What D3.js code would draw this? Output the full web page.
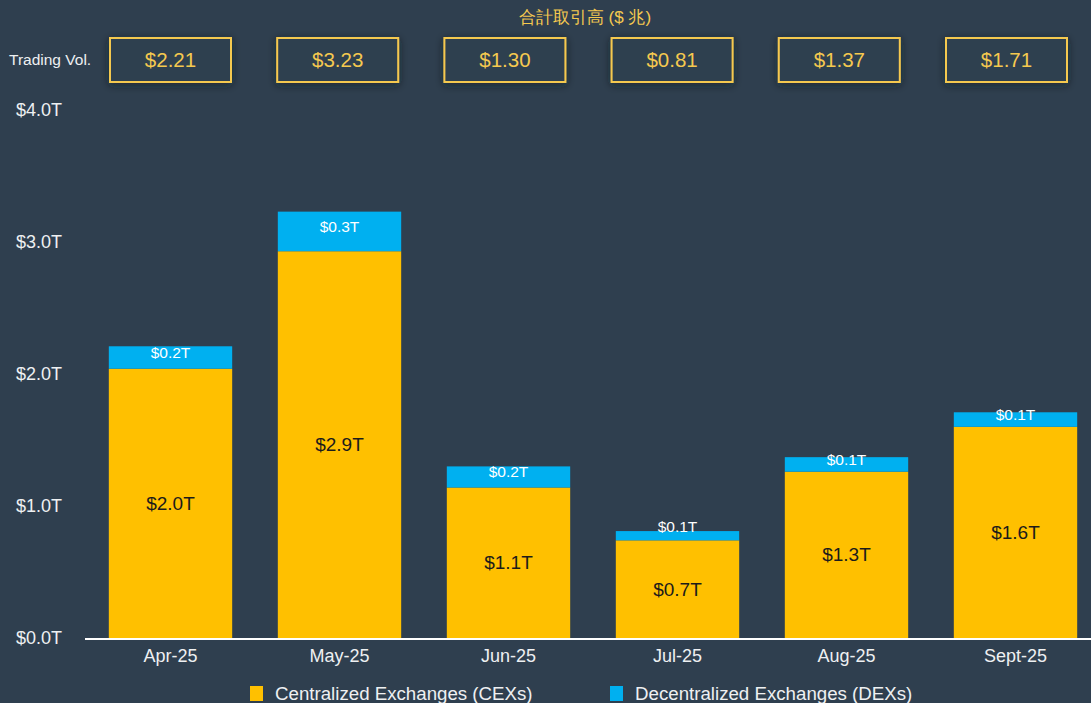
<!DOCTYPE html>
<html>
<head>
<meta charset="utf-8">
<script src="https://cdn.jsdelivr.net/npm/d3@7"></script>
<style>
  html, body { margin: 0; padding: 0; background: #2f3f4f; }
  svg { display: block; }
  text { font-family: "Liberation Sans", Arial, sans-serif; }
</style>
</head>
<body>
<svg id="chart" width="1091" height="703"></svg>
<script>
// Monthly exchange trading volume, trillions of USD
const months = ["Apr-25", "May-25", "Jun-25", "Jul-25", "Aug-25", "Sept-25"];
const cexVolume = [2.04, 2.93, 1.14, 0.74, 1.26, 1.60];
const dexVolume = [0.17, 0.30, 0.16, 0.07, 0.11, 0.11];
const totalVolume = [2.21, 3.23, 1.30, 0.81, 1.37, 1.71];
const yTicks = [0, 1, 2, 3, 4];
const seriesNames = ["Centralized Exchanges (CEXs)", "Decentralized Exchanges (DEXs)"];

const W = 1091, H = 703;
const BG = "#2f3f4f", GOLD = "#f5c94f", CEX = "#ffc000", DEX = "#00b0f0";

const svg = d3.select("#chart");
svg.append("rect").attr("width", W).attr("height", H).attr("fill", BG);

const defs = svg.append("defs");
const shadow = defs.append("filter").attr("id", "boxShadow")
  .attr("x", "-20%").attr("y", "-30%").attr("width", "140%").attr("height", "160%");
shadow.append("feDropShadow").attr("dx", 0).attr("dy", 2).attr("stdDeviation", 4)
  .attr("flood-color", "#111a22").attr("flood-opacity", 0.6);

const x = d3.scaleBand().domain(months).range([86, 1100]).paddingInner(0.27).paddingOuter(0.135);
const y = d3.scaleLinear().domain([0, 4]).range([638, 110]);
// header boxes sit on their own evenly spaced row
const xHeader = d3.scalePoint().domain(months).range([170.5, 1006.5]);

const rows = months.map((m, i) => ({ month: m, cex: cexVolume[i], dex: dexVolume[i], total: totalVolume[i] }));
const stacked = d3.stack().keys(["cex", "dex"])(rows);
const colors = { cex: CEX, dex: DEX };

// y axis labels
const yAxis = d3.axisLeft(y).tickValues(yTicks).tickFormat(d => "$" + d3.format(".1f")(d) + "T").tickSize(0);
const gy = svg.append("g").attr("transform", "translate(65,0)").call(yAxis);
gy.select(".domain").remove();
gy.selectAll("text").attr("fill", "#eef0f2").attr("font-size", 18);

// stacked bars
const layers = svg.append("g").selectAll("g").data(stacked).join("g").attr("fill", d => colors[d.key]);
layers.selectAll("rect").data(d => d).join("rect")
  .attr("x", d => x(d.data.month))
  .attr("width", x.bandwidth())
  .attr("y", d => y(d[1]))
  .attr("height", d => y(d[0]) - y(d[1]));

// baseline
svg.append("line").attr("x1", 85).attr("x2", W).attr("y1", y(0) + 1).attr("y2", y(0) + 1)
  .attr("stroke", "#ffffff").attr("stroke-width", 2);

const fmt = v => "$" + d3.format(".1f")(v) + "T";

// CEX labels
svg.append("g").selectAll("text").data(stacked[0]).join("text")
  .attr("x", d => x(d.data.month) + x.bandwidth() / 2)
  .attr("y", d => (y(d[0]) + y(d[1])) / 2)
  .attr("dy", "0.35em")
  .attr("text-anchor", "middle")
  .attr("font-size", 19)
  .attr("fill", "#1b1b1b")
  .text(d => fmt(d.data.cex));

// DEX labels
svg.append("g").selectAll("text").data(stacked[1]).join("text")
  .attr("x", d => x(d.data.month) + x.bandwidth() / 2)
  .attr("y", d => {
    const top = y(d[1]), bottom = y(d[0]);
    return (bottom - top) < 12 ? top - 5 : (top + bottom) / 2 - 5;
  })
  .attr("dy", "0.35em")
  .attr("text-anchor", "middle")
  .attr("font-size", 15.5)
  .attr("fill", "#ffffff")
  .text(d => fmt(d.data.dex));

// x axis labels
const xAxis = d3.axisBottom(x).tickSize(0);
const gx = svg.append("g").attr("transform", `translate(0,${y(0) + 8})`).call(xAxis);
gx.select(".domain").remove();
gx.selectAll("text").attr("fill", "#eef0f2").attr("font-size", 18).attr("dy", "0.71em");

// header: title and trading volume boxes
svg.append("text").attr("x", 585).attr("y", 17).attr("dy", "0.35em").attr("text-anchor", "middle")
  .attr("font-size", 17).attr("fill", GOLD).text("合計取引高 ($ 兆)");

svg.append("text").attr("x", 9).attr("y", 60).attr("dy", "0.35em").attr("font-size", 15.5).attr("fill", "#eef0f2")
  .text("Trading Vol.");

const boxW = 121, boxH = 44;
const boxes = svg.append("g").selectAll("g").data(rows).join("g")
  .attr("transform", d => `translate(${xHeader(d.month)},60)`);
boxes.append("rect")
  .attr("x", -boxW / 2).attr("y", -boxH / 2).attr("width", boxW).attr("height", boxH)
  .attr("fill", BG).attr("stroke", GOLD).attr("stroke-width", 2)
  .attr("filter", "url(#boxShadow)");
boxes.append("text").attr("text-anchor", "middle").attr("dy", "0.36em")
  .attr("font-size", 20.5).attr("fill", GOLD)
  .text(d => "$" + d3.format(".2f")(d.total));

// legend
const legend = svg.append("g").attr("transform", "translate(250,693)");
const legendX = [0, 360];
seriesNames.forEach((name, i) => {
  const g = legend.append("g").attr("transform", `translate(${legendX[i]},0)`);
  g.append("rect").attr("x", 0).attr("y", -7).attr("width", 13).attr("height", 15)
    .attr("fill", i === 0 ? CEX : DEX);
  g.append("text").attr("x", 25).attr("dy", "0.35em").attr("font-size", 18.7)
    .attr("fill", "#eef0f2").text(name);
});
</script>
</body>
</html>
